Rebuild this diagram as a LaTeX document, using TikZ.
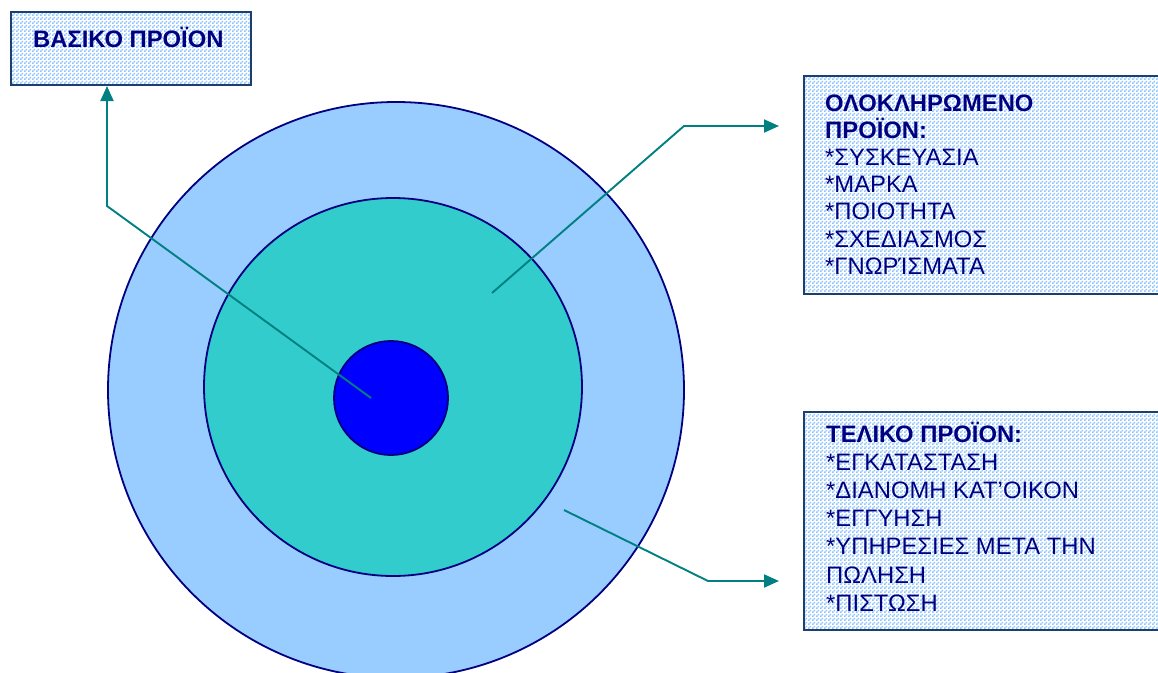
\documentclass[tikz,border=0pt]{standalone}
\usepackage{fontspec}
\setmainfont{Liberation Sans}
\usetikzlibrary{arrows.meta,patterns}

\definecolor{ringouter}{HTML}{99CCFF}
\definecolor{ringmid}{HTML}{33CCCC}
\definecolor{ringcore}{HTML}{0000FF}
\definecolor{edgenavy}{HTML}{000080}
\definecolor{leadteal}{HTML}{008080}
\definecolor{boxedge}{HTML}{1C3F6E}
\definecolor{checkblue}{HTML}{8CC4FF}

% fine two-colour checkerboard used inside the text boxes
\pgfdeclarepatternformonly{finechecks}{\pgfpointorigin}{\pgfpoint{4pt}{4pt}}{\pgfpoint{4pt}{4pt}}{%
  \pgfpathrectangle{\pgfpointorigin}{\pgfpoint{2pt}{2pt}}%
  \pgfpathrectangle{\pgfpoint{2pt}{2pt}}{\pgfpoint{2pt}{2pt}}%
  \pgfusepath{fill}}

\tikzset{
  ring/.style={circle, draw=edgenavy, line width=1.8pt, inner sep=0pt},
  infobox/.style={draw=boxedge, line width=2pt, preaction={fill=white},
    pattern=finechecks, pattern color=checkblue, inner sep=0pt},
  boxtext/.style={anchor=north west, inner sep=0pt, align=left,
    text=edgenavy, font=\fontsize{23.8}{27.4}\selectfont},
  lead/.style={draw=leadteal, line width=1.9pt,
    -{Triangle[length=15pt,width=13pt]}}
}

\begin{document}
\begin{tikzpicture}[x=1pt,y=-1pt]
  \useasboundingbox (0,0) rectangle (1158,672);

  % concentric product levels
  \node[ring, fill=ringouter, minimum size=576pt] (outer) at (396,390) {};
  \node[ring, fill=ringmid, minimum size=378pt] (middle) at (393,387) {};
  \node[ring, fill=ringcore, minimum size=114pt] (core) at (391,398) {};

  % text boxes
  \node[infobox, minimum width=240pt, minimum height=73pt] (basic) at (131,48.5) {};
  \node[boxtext] (basictext) at (33,27)
    {\vphantom{Ϊ}\textbf{ΒΑΣΙΚΟ ΠΡΟΪΟΝ}};

  \node[infobox, minimum width=360pt, minimum height=218pt] (whole) at (984,185) {};
  \node[boxtext, font=\fontsize{23.8}{27.2}\selectfont] (wholetext) at (825,91)
    {\vphantom{Ϊ}\textbf{ΟΛΟΚΛΗΡΩΜΕΝΟ}\\
     \textbf{ΠΡΟΪΟΝ:}\\
     *ΣΥΣΚΕΥΑΣΙΑ\\
     *ΜΑΡΚΑ\\
     *ΠΟΙΟΤΗΤΑ\\
     *ΣΧΕΔΙΑΣΜΟΣ\\
     *ΓΝΩΡΊΣΜΑΤΑ};

  \node[infobox, minimum width=360pt, minimum height=218pt] (final) at (984,521) {};
  \node[boxtext, font=\fontsize{23.8}{28.1}\selectfont] (finaltext) at (826,422)
    {\vphantom{Ϊ}\textbf{ΤΕΛΙΚΟ ΠΡΟΪΟΝ:}\\
     *ΕΓΚΑΤΑΣΤΑΣΗ\\
     *ΔΙΑΝΟΜΗ ΚΑΤ’ΟΙΚΟΝ\\
     *ΕΓΓΥΗΣΗ\\
     *ΥΠΗΡΕΣΙΕΣ ΜΕΤΑ ΤΗΝ\\
     ΠΩΛΗΣΗ\\
     *ΠΙΣΤΩΣΗ};

  % leader lines
  \coordinate (coreref) at (371,398);
  \coordinate (bend1) at (107,206);
  \coordinate (midref) at (492,293);
  \coordinate (bend2) at (684,126);
  \coordinate (tip2) at (779,126);
  \coordinate (outref) at (564,510);
  \coordinate (bend3) at (708,581);
  \coordinate (tip3) at (779,581);

  \draw[lead] (coreref) -- (bend1) -- (bend1 |- basic.south);
  \draw[lead] (midref) -- (bend2) -- (tip2);
  \draw[lead] (outref) -- (bend3) -- (tip3);
\end{tikzpicture}
\end{document}
